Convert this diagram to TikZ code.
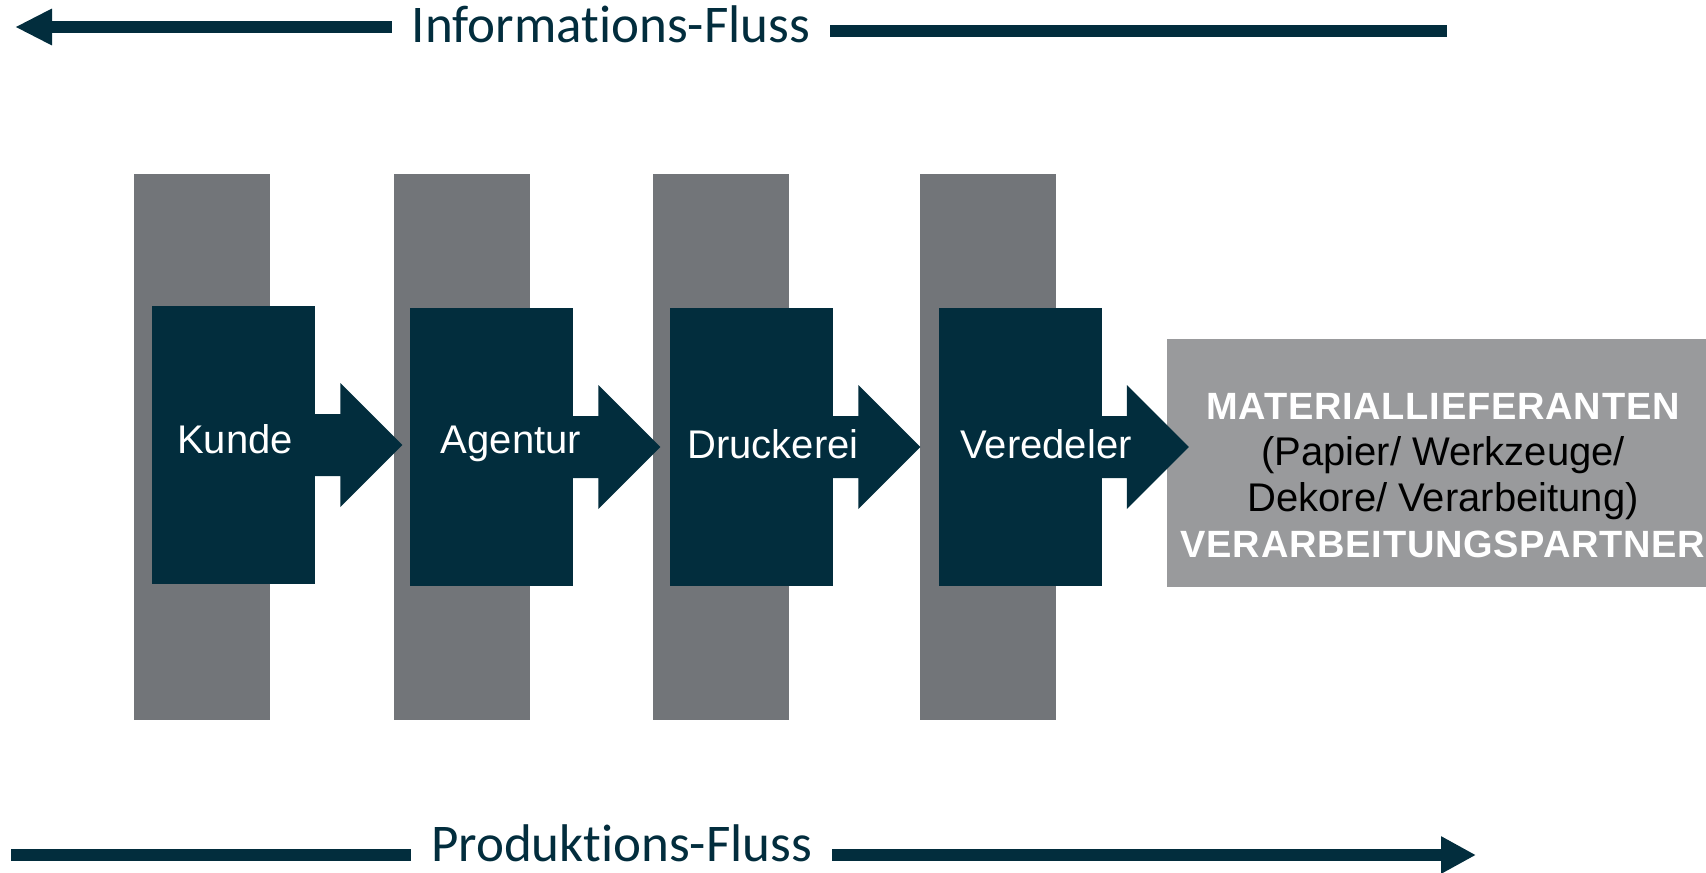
\documentclass[tikz,border=0pt]{standalone}
\usepackage{fontspec}
\setmainfont{Liberation Sans}
\newfontfamily\flussfont[Ligatures=NoCommon]{Carlito}
\newfontfamily\sperrfont[LetterSpace=2]{Liberation Sans}
\usetikzlibrary{arrows.meta}

\definecolor{dunkelblau}{HTML}{022D3D}
\definecolor{balkengrau}{HTML}{727579}
\definecolor{liefergrau}{HTML}{999A9C}

\begin{document}
\begin{tikzpicture}[x=0.5pt, y=-0.5pt,
	balken/.style={fill=balkengrau, inner sep=0pt, minimum width=68pt, minimum height=273pt},
	stufe/.style={fill=dunkelblau, inner sep=0pt, minimum width=81.5pt, minimum height=139pt},
	stufentext/.style={text=white, anchor=base, font=\fontsize{20}{24}\selectfont},
	fluss/.style={draw=dunkelblau, line width=5.75pt},
	flusstext/.style={text=dunkelblau, anchor=base, inner xsep=10pt, font=\flussfont\fontsize{26.5}{30}\selectfont}]
	\useasboundingbox (0,0) rectangle (1706,872);

	% Balken hinter den Stufen
	\node[balken](b1) at (202,447) {};
	\node[balken](b2) at (462,447) {};
	\node[balken](b3) at (721,447) {};
	\node[balken](b4) at (987.5,447) {};

	% Lieferanten
	\node[fill=liefergrau, inner sep=0pt, minimum width=269.5pt, minimum height=124pt](lieferanten) at (1436.5,463) {};
	\node[align=center, font=\fontsize{20}{23}\selectfont](liefertext) at (1443,476)
		{{\sperrfont\bfseries\fontsize{19}{23}\selectfont\color{white}MATERIALLIEFERANTEN}\\
		(Papier/ Werkzeuge/\\
		Dekore/ Verarbeitung)\\
		{\sperrfont\bfseries\fontsize{19}{23}\selectfont\color{white}VERARBEITUNGSPARTNER}};

	% Stufen
	\node[stufe](kunde) at (233.5,445) {};
	\node[stufe](agentur) at (491.5,447) {};
	\node[stufe](druckerei) at (751.5,447) {};
	\node[stufe](veredeler) at (1020,447) {};
	\foreach \s in {kunde,agentur,druckerei,veredeler}
		\fill[dunkelblau] (\s.east) ++(-1,-31) -- ++(26,0) -- ++(0,-31) -- ++(62,62)
			-- ++(-62,62) -- ++(0,-31) -- ++(-26,0) -- cycle;
	\node[stufentext](kundetext) at (235,453) {Kunde};
	\node[stufentext](agenturtext) at (511,453) {Agentur};
	\node[stufentext](druckereitext) at (773,458) {Druckerei};
	\node[stufentext](veredelertext) at (1046,458) {Veredeler};

	% Fluesse
	\node[flusstext](info) at (611,43) {Informations-Fluss};
	\coordinate (infotip) at (15,27);
	\coordinate (infoend) at (1447,31);
	\draw[fluss, -{Triangle[length=18.5pt, width=17pt]}] (infotip -| info.west) -- (infotip);
	\draw[fluss] (infoend -| info.east) -- (infoend);

	\node[flusstext](prod) at (621.5,861) {Produktions-Fluss};
	\coordinate (prodstart) at (11,855);
	\coordinate (prodtip) at (1476,855);
	\draw[fluss] (prodstart -| prod.west) -- (prodstart);
	\draw[fluss, -{Triangle[length=17.5pt, width=17.5pt]}] (prodtip -| prod.east) -- (prodtip);
\end{tikzpicture}
\end{document}
